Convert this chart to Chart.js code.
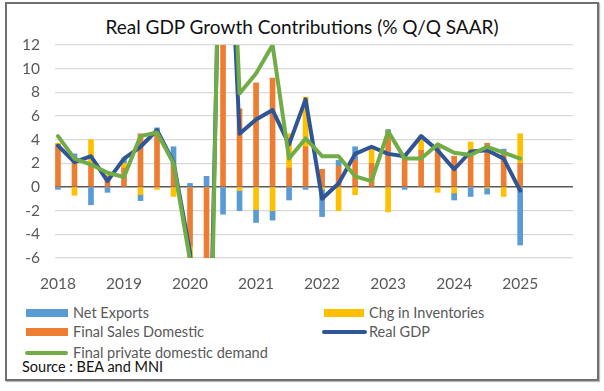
<!DOCTYPE html>
<html>
<head>
<meta charset="utf-8">
<script src="https://cdn.jsdelivr.net/npm/chart.js@4.4.0/dist/chart.umd.min.js"></script>
<style>
  body { margin: 0; background: #fff; font-family: Lato, 'Open Sans', sans-serif; }
  #wrap { position: relative; width: 604px; height: 391px; }
  #frame { position: absolute; left: 5px; top: 2px; width: 590px; height: 375px; border: 2px solid #707070; box-shadow: 1px 1px 1px #bbb; }
  #title { position: absolute; left: 0; width: 604px; top: 15px; text-align: center; font-size: 19px; color: #111; }
  canvas { position: absolute; left: 0; top: 0; }
  .lg { position: absolute; font-size: 14.5px; color: #595959; white-space: nowrap; line-height: 18px; }
  .sw { position: absolute; }
  #src { position: absolute; left: 22px; top: 358px; font-size: 14.5px; color: #111; }
</style>
</head>
<body>
<div id="wrap">
  <div id="frame"></div>
  <div id="title">Real GDP Growth Contributions (% Q/Q SAAR)</div>
  <canvas id="canvas" width="604" height="300"></canvas>

  <div class="sw" style="left:26px;top:309px;width:42px;height:8px;background:#5b9bd5"></div>
  <div class="lg" style="left:73px;top:304px">Net Exports</div>
  <div class="sw" style="left:324px;top:309px;width:40px;height:8px;background:#ffc000"></div>
  <div class="lg" style="left:369px;top:304px">Chg in Inventories</div>

  <div class="sw" style="left:26px;top:328px;width:42px;height:8px;background:#ed7d31"></div>
  <div class="lg" style="left:73px;top:323px">Final Sales Domestic</div>
  <div class="sw" style="left:322px;top:330px;width:45px;height:4px;border-radius:2px;background:#2f5597"></div>
  <div class="lg" style="left:369px;top:323px">Real GDP</div>

  <div class="sw" style="left:25px;top:351px;width:43px;height:4px;border-radius:2px;background:#70ad47"></div>
  <div class="lg" style="left:73px;top:344px">Final private domestic demand</div>
  <div id="src">Source : BEA and MNI</div>
</div>
<script>
const quarters = ['2018Q1','2018Q2','2018Q3','2018Q4','2019Q1','2019Q2','2019Q3','2019Q4',
  '2020Q1','2020Q2','2020Q3','2020Q4','2021Q1','2021Q2','2021Q3','2021Q4',
  '2022Q1','2022Q2','2022Q3','2022Q4','2023Q1','2023Q2','2023Q3','2023Q4',
  '2024Q1','2024Q2','2024Q3','2024Q4','2025Q1']
const years = ['2018', '2019', '2020', '2021', '2022', '2023', '2024', '2025']

const finalSales = [3.6, 2.2, 2.0, 0.9, 1.6, 4.5, 4.8, 1.9,
  -5.0, -27.0, 28.0, 6.6, 8.8, 9.2, 1.6, 3.4,
  1.5, 1.75, 2.3, 2.0, 4.7, 2.6, 3.1, 3.3,
  2.6, 3.0, 3.7, 3.0, 2.0]
const inventories = [0.1, -0.7, 2.0, 0.1, 0.4, -0.65, -0.2, -0.8,
  -1.0, -4.0, 6.5, -0.3, -1.9, -2.0, 2.9, 4.2,
  -0.2, -2.0, -0.65, 1.2, -2.1, 0.2, 1.2, -0.45,
  -0.5, 0.8, -0.1, -0.8, 2.5]
const netExports = [-0.2, 0.6, -1.5, -0.45, 0.4, -0.5, 0.2, 1.5,
  0.3, 0.9, -2.3, -1.7, -1.1, -0.8, -1.1, -0.2,
  -2.3, 0.5, 1.1, 0.2, 0.15, -0.2, 0.0, 0.25,
  -0.6, -0.8, -0.5, 0.2, -4.9]
const realGDP = [3.5, 2.1, 2.6, 0.5, 2.4, 3.4, 4.8, 2.1,
  -5.5, -28.0, 34.8, 4.5, 5.7, 6.5, 3.6, 7.4,
  -1.0, 0.3, 2.8, 3.4, 2.8, 2.6, 4.3, 3.1,
  1.5, 3.0, 3.1, 2.4, -0.3]
const finalPrivate = [4.3, 2.4, 1.9, 1.2, 0.85, 4.3, 4.6, 2.0,
  -6.2, -35.0, 40.0, 7.9, 9.6, 12.0, 2.4, 4.1,
  2.6, 2.6, 0.9, 0.5, 4.7, 2.4, 2.4, 3.6,
  2.9, 2.7, 3.4, 2.9, 2.4]

const pts = arr => arr.map((v, i) => ({ x: i, y: v }))

const barSet = (label, arr, color) => ({
  type: 'bar', label, data: pts(arr), backgroundColor: color,
  barThickness: 5, stack: 'c', order: 0,
})
const lineSet = (label, arr, color, order) => ({
  type: 'line', label, data: pts(arr), borderColor: color, backgroundColor: color,
  borderWidth: 4, pointRadius: 0, tension: 0, stack: label, order,
  borderJoinStyle: 'round', borderCapStyle: 'round',
})

const data = {
  datasets: [
    barSet('Final Sales Domestic', finalSales, '#ed7d31'),
    barSet('Chg in Inventories', inventories, '#ffc000'),
    barSet('Net Exports', netExports, '#5b9bd5'),
    lineSet('Real GDP', realGDP, '#2f5597', -1),
    lineSet('Final private domestic demand', finalPrivate, '#70ad47', -2),
  ],
}

const tickFont = { family: 'Lato', size: 15.5 }

const config = {
  type: 'bar',
  data: data,
  options: {
    responsive: false,
    animation: false,
    layout: { padding: { left: 0, right: 31, top: 45, bottom: 0 } },
    plugins: { legend: { display: false }, tooltip: { enabled: false } },
    scales: {
      x: {
        type: 'linear', min: -0.18, max: 31.2, offset: false,
        grid: { display: false },
        border: { display: false },
        ticks: {
          stepSize: 4, includeBounds: false, padding: 9, color: '#595959', font: tickFont,
          maxRotation: 0, autoSkip: false,
          callback: v => years[v / 4],
        },
        afterFit: s => { s.height = 42 },
      },
      y: {
        min: -6, max: 12,
        border: { display: false },
        grid: {
          drawTicks: false,
          color: c => c.tick.value === 0 ? '#595959' : '#d9d9d9',
          lineWidth: c => c.tick.value === 0 ? 1.5 : 1.3,
        },
        ticks: { stepSize: 2, padding: 15, color: '#595959', font: tickFont },
        afterFit: s => { s.width = 55 },
      },
    },
  },
}

const canvas = document.getElementById('canvas')
const chart = new Chart(canvas, config)
</script>
</body>
</html>
